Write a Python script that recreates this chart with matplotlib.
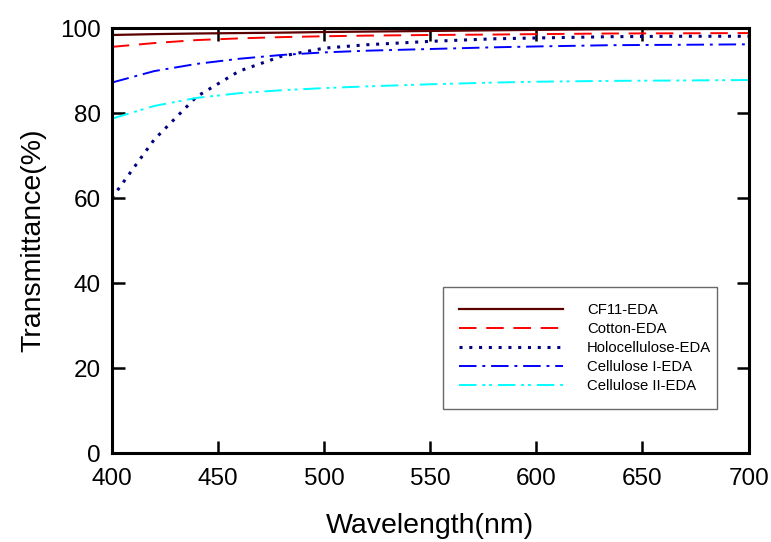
import matplotlib.pyplot as plt

plt.rcParams['font.family'] = ['Liberation Sans', 'DejaVu Sans']

# wavelength (nm) and transmittance (%)
wl = [400, 420, 440, 460, 480, 500, 520, 550, 580, 600, 635, 670, 700]
cf11 = [98.4, 98.6, 98.75, 98.85, 98.95, 99.1, 99.2, 99.35, 99.5, 99.6, 99.75, 99.8, 99.85]
cotton = [95.6, 96.5, 97.2, 97.6, 97.9, 98.1, 98.25, 98.4, 98.5, 98.6, 98.75, 98.8, 98.85]
holo = [60.0, 73.8, 83.9, 89.9, 93.4, 95.3, 96.1, 96.9, 97.5, 97.7, 98.0, 98.1, 98.1]
cell1 = [87.2, 89.9, 91.6, 92.8, 93.7, 94.3, 94.7, 95.1, 95.5, 95.7, 96.0, 96.1, 96.2]
cell2 = [78.7, 81.7, 83.6, 84.7, 85.4, 85.9, 86.3, 86.8, 87.2, 87.4, 87.6, 87.7, 87.8]

labels = ['CF11-EDA', 'Cotton-EDA', 'Holocellulose-EDA', 'Cellulose I-EDA', 'Cellulose II-EDA']

fig = plt.figure(figsize=(7.71, 5.42), dpi=100)
ax = fig.add_axes([0.145, 0.164, 0.826, 0.784])

ax.plot(wl, cf11, color='#5a0000', lw=1.6, label=labels[0])
ax.plot(wl, cotton, color='red', lw=1.4, dashes=(9, 5), label=labels[1])
ax.plot(wl, holo, color='#000080', lw=2.2, dashes=(1, 2.2), label=labels[2])
ax.plot(wl, cell1, color='blue', lw=1.4, dashes=(9, 3, 1.5, 3), label=labels[3])
ax.plot(wl, cell2, color='cyan', lw=1.4, dashes=(9, 3, 1.5, 2, 1.5, 3), label=labels[4])

ax.set_xlim(400, 700)
ax.set_ylim(0, 100)
ax.set_xticks(range(400, 701, 50))
ax.set_yticks(range(0, 101, 20))
ax.tick_params(direction='in', length=9, width=1.8, labelsize=17.5,
               top=True, right=True, pad=8)
ax.tick_params(axis='x', pad=11)
for s in ax.spines.values():
    s.set_linewidth(2.2)

ax.set_xlabel('Wavelength(nm)', fontsize=20.5, labelpad=16)
ax.set_ylabel('Transmittance(%)', fontsize=20.5, labelpad=10)

leg = ax.legend(loc='upper left', bbox_to_anchor=(0.52, 0.101, 0.431, 0.2895),
                mode='expand', fontsize=10.7, handlelength=7.05, handletextpad=1.6,
                frameon=True, fancybox=False, borderpad=1.05, labelspacing=0.34,
                borderaxespad=0)
leg.get_frame().set_edgecolor('#444444')
leg.get_frame().set_linewidth(1.0)

fig.savefig('out.png', dpi=100)
